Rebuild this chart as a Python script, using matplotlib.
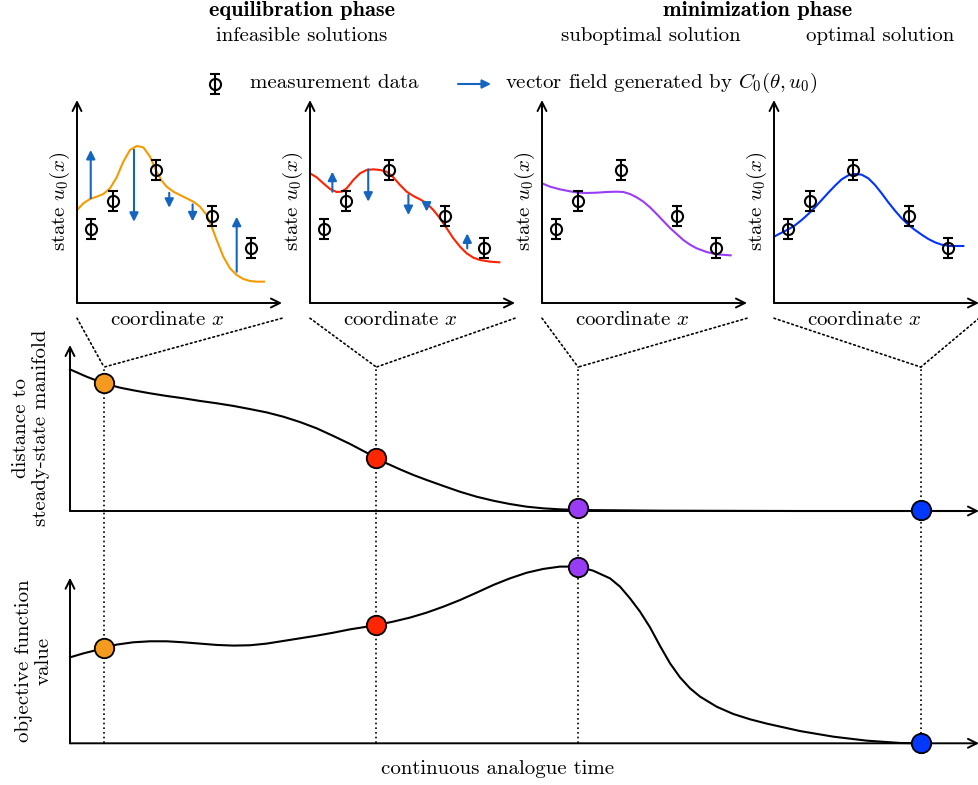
import matplotlib
matplotlib.use('Agg')
import matplotlib.pyplot as plt
from matplotlib.patches import ConnectionPatch

plt.rcParams['font.family'] = 'serif'
plt.rcParams['font.serif'] = ['cmr10']
plt.rcParams['mathtext.fontset'] = 'cm'
plt.rcParams['axes.unicode_minus'] = False
plt.rcParams['axes.formatter.use_mathtext'] = True

# measurement data (same in all four small panels)
meas_x = [0.68, 1.76, 3.85, 6.59, 8.49]
meas_y = [3.65, 5.02, 6.55, 4.29, 2.71]
meas_err = [0.5, 0.5, 0.5, 0.5, 0.5]

# state curves u0(x) for the four snapshots
orange_x = [0, 0.309, 0.634, 0.959, 1.285, 1.610, 1.935, 2.260, 2.585, 2.911, 3.236, 3.561, 3.886,
            4.130, 4.374, 4.699, 5.024, 5.350, 5.675, 6.000, 6.325, 6.569, 6.813, 7.138, 7.463,
            7.789, 8.114, 8.439, 8.764, 9.122]
orange_y = [4.581, 4.910, 5.123, 5.238, 5.369, 5.649, 6.190, 6.962, 7.537, 7.734, 7.668, 7.209, 6.470,
            6.026, 5.731, 5.484, 5.320, 5.156, 4.992, 4.745, 4.335, 3.760, 3.103, 2.282, 1.707,
            1.379, 1.182, 1.084, 1.051, 1.051]
red_x = [0, 0.325, 0.650, 0.976, 1.301, 1.545, 1.789, 2.114, 2.439, 2.764, 3.089, 3.415, 3.740,
         4.065, 4.390, 4.715, 5.041, 5.366, 5.691, 6.016, 6.341, 6.667, 6.992, 7.317, 7.642,
         7.967, 8.293, 8.780, 9.236]
red_y = [6.388, 6.190, 5.895, 5.616, 5.468, 5.484, 5.649, 6.059, 6.388, 6.552, 6.585, 6.552, 6.470,
         6.190, 5.813, 5.484, 5.271, 5.107, 4.910, 4.581, 4.171, 3.678, 3.186, 2.775, 2.447,
         2.233, 2.118, 2.036, 2.003]
purple_x = [0, 0.390, 0.878, 1.366, 1.772, 2.179, 2.667, 3.154, 3.642, 3.967, 4.293, 4.618, 4.943,
            5.268, 5.593, 5.919, 6.244, 6.569, 6.894, 7.220, 7.545, 8.033, 8.520, 9.203]
purple_y = [5.895, 5.731, 5.599, 5.501, 5.435, 5.419, 5.435, 5.468, 5.484, 5.468, 5.369, 5.205, 4.992,
            4.713, 4.384, 4.039, 3.695, 3.399, 3.103, 2.874, 2.693, 2.512, 2.397, 2.348]
blue_x = [0, 0.374, 0.699, 1.024, 1.350, 1.675, 2.000, 2.325, 2.650, 2.976, 3.301, 3.626, 3.951,
          4.276, 4.602, 4.927, 5.252, 5.577, 5.902, 6.228, 6.553, 6.878, 7.203, 7.528, 7.854,
          8.179, 8.585, 9.236]
blue_y = [3.268, 3.465, 3.629, 3.826, 4.089, 4.384, 4.713, 5.074, 5.435, 5.780, 6.092, 6.289, 6.355,
          6.322, 6.141, 5.813, 5.402, 4.959, 4.548, 4.171, 3.859, 3.596, 3.366, 3.153, 2.988,
          2.874, 2.808, 2.808]

# vector field arrows (x, start, end)
orange_arrows = [(0.67, 5.16, 7.54), (2.78, 7.55, 4.00), (4.50, 5.43, 4.69), (5.64, 4.86, 4.02), (7.79, 1.54, 4.25)]
red_arrows = [(1.09, 5.48, 6.47), (2.84, 6.59, 4.99), (4.80, 5.32, 4.33), (5.69, 4.91, 4.50), (7.67, 2.69, 3.43)]

# distance to steady-state manifold over time
dist_t = [0, 0.183, 0.374, 0.550, 0.697, 0.880, 1.063, 1.247, 1.430, 1.613, 1.797, 1.980, 2.163,
          2.347, 2.530, 2.714, 2.897, 3.080, 3.264, 3.366, 3.484, 3.630, 3.777, 3.923, 4.107,
          4.290, 4.474, 4.657, 4.840, 5.024, 5.207, 5.390, 5.592, 6.5, 8.0, 9.8]
dist_v = [0.853, 0.809, 0.769, 0.743, 0.727, 0.709, 0.693, 0.679, 0.663, 0.649, 0.633, 0.614, 0.594,
          0.568, 0.536, 0.498, 0.452, 0.404, 0.351, 0.317, 0.287, 0.251, 0.217, 0.187, 0.151,
          0.116, 0.086, 0.062, 0.042, 0.026, 0.016, 0.010, 0.006, 0.002, 0.0, 0.0]

# objective function value over time
obj_t = [0, 0.147, 0.293, 0.378, 0.513, 0.697, 0.880, 1.063, 1.247, 1.430, 1.613, 1.797, 1.980,
         2.163, 2.347, 2.530, 2.714, 2.897, 3.080, 3.264, 3.374, 3.557, 3.740, 3.923, 4.107,
         4.290, 4.474, 4.657, 4.840, 5.024, 5.207, 5.390, 5.592, 5.757, 5.941, 6.051, 6.161,
         6.271, 6.381, 6.491, 6.601, 6.711, 6.821, 6.931, 7.114, 7.297, 7.481, 7.664, 8.031,
         8.398, 8.764, 9.131, 9.37]
obj_v = [0.519, 0.543, 0.563, 0.578, 0.596, 0.610, 0.616, 0.616, 0.610, 0.602, 0.594, 0.590, 0.592,
         0.602, 0.618, 0.634, 0.650, 0.668, 0.688, 0.704, 0.714, 0.735, 0.759, 0.789, 0.825,
         0.865, 0.910, 0.956, 0.996, 1.030, 1.053, 1.067, 1.067, 1.042, 0.996, 0.946, 0.875,
         0.795, 0.700, 0.588, 0.483, 0.398, 0.332, 0.282, 0.221, 0.177, 0.145, 0.119, 0.074,
         0.040, 0.016, 0.002, 0.0]

# snapshots
snap_t = [0.374, 3.37, 5.59, 9.36]
snap_dist = [0.769, 0.317, 0.016, 0.004]
snap_obj = [0.578, 0.714, 1.067, 0.0]
snap_colors = ['#F39A1F', '#FF2600', '#993DF5', '#0038FF']
curve_colors = ['#F59B00', '#FF2200', '#9B3CF5', '#0033FF']
arrow_color = '#1565C0'

W, H = 979, 785
FS = 15


def box(l, t, r, b):
    return [l / W, 1 - b / H, (r - l) / W, (b - t) / H]


def arrow_axes(ax, lw=1.4):
    for s in ax.spines.values():
        s.set_visible(False)
    ax.set_xticks([])
    ax.set_yticks([])
    ax.patch.set_alpha(0)
    kw = dict(arrowstyle='->', lw=lw, color='k', mutation_scale=16, shrinkA=0, shrinkB=0)
    ax.annotate('', xy=(1, 0), xytext=(0, 0), xycoords='axes fraction', arrowprops=kw)
    ax.annotate('', xy=(0, 1), xytext=(0, 0), xycoords='axes fraction', arrowprops=kw)


fig = plt.figure(figsize=(9.79, 7.85), dpi=100)

ax_mid = fig.add_axes(box(70, 345, 979, 511))
ax_bot = fig.add_axes(box(70, 577.7, 979, 743.3))
ax_mid.set_zorder(3)
ax_bot.set_zorder(2)
for ax in (ax_mid, ax_bot):
    ax.set_xlim(0, 10)
    ax.set_ylim(0, 1)
    arrow_axes(ax)

dot = (0, (1, 1.8))
top_y = 0.867
gap_y = 1.403  # mid axis level in bottom-axes units

ax_mid.plot(dist_t, dist_v, color='k', lw=1.5, clip_on=False, zorder=3)
ax_bot.plot(obj_t, obj_v, color='k', lw=1.5, clip_on=False, zorder=3)
for t, d, o, c in zip(snap_t, snap_dist, snap_obj, snap_colors):
    ax_mid.plot([t, t], [0, top_y], color='k', lw=1.2, linestyle=dot, clip_on=False, zorder=1)
    ax_bot.plot([t, t], [0, gap_y], color='k', lw=1.2, linestyle=dot, clip_on=False, zorder=1)
    ax_mid.plot(t, d, 'o', ms=14, mfc=c, mec='k', mew=1.3, clip_on=False, zorder=5)
    ax_bot.plot(t, o, 'o', ms=14, mfc=c, mec='k', mew=1.3, clip_on=False, zorder=5)

ax_mid.text(-0.043, 0.5, 'distance to\nsteady-state manifold', transform=ax_mid.transAxes,
            rotation=90, ha='center', va='center', fontsize=FS, linespacing=1.1)
ax_bot.text(-0.04, 0.5, 'objective function\nvalue', transform=ax_bot.transAxes,
            rotation=90, ha='center', va='center', fontsize=FS, linespacing=1.1)
ax_bot.text(0.47, -0.155, 'continuous analogue time', transform=ax_bot.transAxes,
            ha='center', va='center', fontsize=FS)

panel_left = [77, 310, 542, 774]
curves = [(orange_x, orange_y), (red_x, red_y), (purple_x, purple_y), (blue_x, blue_y)]
arrows = [orange_arrows, red_arrows, [], []]

for k, L in enumerate(panel_left):
    ax = fig.add_axes(box(L, 100, L + 205, 303))
    ax.set_xlim(0, 10)
    ax.set_ylim(0, 10)
    arrow_axes(ax)
    cx, cy = curves[k]
    ax.plot(cx, cy, color=curve_colors[k], lw=1.5, zorder=2)
    for x, y0, y1 in arrows[k]:
        ax.annotate('', xy=(x, y1), xytext=(x, y0),
                    arrowprops=dict(arrowstyle='-|>', lw=1.5, color=arrow_color,
                                    mutation_scale=13, shrinkA=0, shrinkB=0), zorder=3)
    ax.errorbar(meas_x, meas_y, yerr=meas_err, fmt='o', ms=8, mfc='none', mec='k',
                mew=1.5, ecolor='k', elinewidth=1.5, capsize=3.6, capthick=1.5, zorder=4)
    ax.text(0.44, -0.085, 'coordinate $x$', transform=ax.transAxes, ha='center', va='center',
            fontsize=FS)
    ax.text(-0.085, 0.5, 'state $u_0(x)$', transform=ax.transAxes, rotation=90,
            ha='center', va='center', fontsize=FS)
    # dotted zoom lines down to the time axis
    for xa in (0.0, 1.0):
        con = ConnectionPatch(xyA=(xa, -0.075), coordsA=ax.transAxes,
                              xyB=(snap_t[k], top_y), coordsB=ax_mid.transData,
                              linestyle=dot, lw=1.2, color='k')
        fig.add_artist(con)

# legend row
ax_leg = fig.add_axes([0, 0, 1, 1])
ax_leg.set_xlim(0, W)
ax_leg.set_ylim(H, 0)
ax_leg.axis('off')
ax_leg.errorbar([215], [84], yerr=[10], fmt='o', ms=8, mfc='none', mec='k', mew=1.5,
                ecolor='k', elinewidth=1.5, capsize=3.6, capthick=1.5)
ax_leg.text(250, 83, 'measurement data', ha='left', va='center', fontsize=FS)
ax_leg.annotate('', xy=(491, 84), xytext=(458, 84),
                arrowprops=dict(arrowstyle='-|>', lw=1.5, color=arrow_color,
                                mutation_scale=13, shrinkA=0, shrinkB=0))
ax_leg.text(505, 83, r'vector field generated by $C_0(\theta, u_0)$', ha='left', va='center',
            fontsize=FS)

# headers
ax_leg.text(302, 11, 'equilibration phase', ha='center', va='center', fontsize=16,
            fontfamily='cmb10')
ax_leg.text(302, 36, 'infeasible solutions', ha='center', va='center', fontsize=FS)
ax_leg.text(758, 11, 'minimization phase', ha='center', va='center', fontsize=16,
            fontfamily='cmb10')
ax_leg.text(651, 36, 'suboptimal solution', ha='center', va='center', fontsize=FS)
ax_leg.text(880, 36, 'optimal solution', ha='center', va='center', fontsize=FS)

fig.savefig('out.png', dpi=100)
